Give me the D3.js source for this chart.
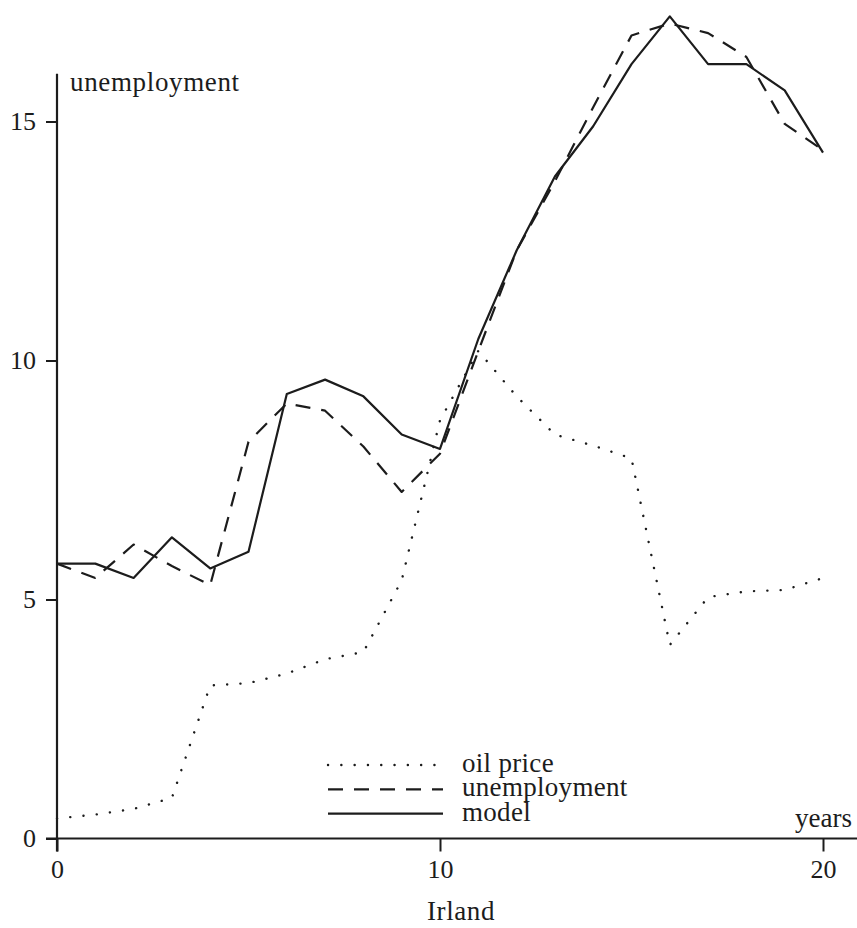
<!DOCTYPE html>
<html>
<head>
<meta charset="utf-8">
<script src="https://cdn.jsdelivr.net/npm/d3@7/dist/d3.min.js"></script>
<style>
    body { margin: 0; background: #fff; }
</style>
</head>
<body>
<svg id="chart" width="857" height="928"></svg>
<script>
// data (Irland)
const years = [0, 1, 2, 3, 4, 5, 6, 7, 8, 9, 10, 11, 12, 13, 14, 15, 16, 17, 18, 19, 20];
const oilPrice = [0.42, 0.5, 0.62, 0.85, 3.2, 3.25, 3.45, 3.75, 3.9, 5.4, 8.75,
    10.2, 9.25, 8.45, 8.22, 7.95, 4.05, 5.05, 5.17, 5.2, 5.45];
const unemployment = [5.75, 5.45, 6.15, 5.7, 5.3, 8.3, 9.1, 8.95, 8.2, 7.25, 8.05,
    10.2, 12.3, 13.75, 15.3, 16.8, 17.05, 16.85, 16.35, 14.95, 14.4];
const model = [5.75, 5.75, 5.45, 6.3, 5.65, 6.0, 9.3, 9.6, 9.25, 8.45, 8.15,
    10.45, 12.3, 13.85, 14.9, 16.2, 17.2, 16.2, 16.2, 15.65, 14.35];

const xTicks = [0, 10, 20];
const yTicks = [0, 5, 10, 15];
const seriesNames = ['oil price', 'unemployment', 'model'];

const ink = '#1c1c1c';
const tickSize = 26;
const labelSize = 27;
const serif = 'Liberation Serif, Times New Roman, Tinos, DejaVu Serif, serif';

const svg = d3.select('#chart')
    .attr('font-family', serif);
const width = +svg.attr('width');

const x = d3.scaleLinear().domain([0, 20]).range([57, 823]);
const y = d3.scaleLinear().domain([0, 15]).range([838.5, 121.5]);

// line styles per series
const styles = {
    'oil price': {dash: '0.1,13.2', cap: 'round', width: 2.4},
    'unemployment': {dash: '15,11', cap: 'butt', width: 2.2},
    'model': {dash: null, cap: 'butt', width: 2.2},
};

const series = [
    {name: 'oil price', values: oilPrice},
    {name: 'unemployment', values: unemployment},
    {name: 'model', values: model},
];

const line = d3.line()
    .x((d, i) => x(years[i]))
    .y(d => y(d));

// axes
const xAxis = svg.append('g')
    .attr('transform', `translate(0,${y(0)})`)
    .call(d3.axisBottom(x).tickValues(xTicks).tickSize(13).tickSizeOuter(0).tickPadding(8.5));

const yAxis = svg.append('g')
    .attr('transform', `translate(${x(0)},0)`)
    .call(d3.axisLeft(y).tickValues(yTicks).tickSize(11).tickSizeOuter(0).tickPadding(10));

[xAxis, yAxis].forEach(g => {
    g.attr('font-family', serif).attr('font-size', tickSize);
    g.select('.domain').remove();
    g.selectAll('.tick line').attr('stroke', ink).attr('stroke-width', 2);
    g.selectAll('.tick text').attr('fill', ink);
});

// axis lines, the y axis stops at 16 while the data runs above it
svg.append('line')
    .attr('x1', x(0) - 11).attr('x2', width)
    .attr('y1', y(0)).attr('y2', y(0))
    .attr('stroke', ink).attr('stroke-width', 2.2);

svg.append('line')
    .attr('x1', x(0)).attr('x2', x(0))
    .attr('y1', y(0) + 13).attr('y2', y(16))
    .attr('stroke', ink).attr('stroke-width', 2.2);

// series
svg.append('g')
    .selectAll('path')
    .data(series)
    .join('path')
    .attr('d', d => line(d.values))
    .attr('fill', 'none')
    .attr('stroke', ink)
    .attr('stroke-width', d => styles[d.name].width)
    .attr('stroke-linecap', d => styles[d.name].cap)
    .attr('stroke-linejoin', 'round')
    .attr('stroke-dasharray', d => styles[d.name].dash);

// axis titles
svg.append('text')
    .attr('x', 70).attr('y', 91)
    .attr('font-size', labelSize)
    .attr('letter-spacing', 0.65)
    .attr('fill', ink)
    .text('unemployment');

svg.append('text')
    .attr('x', 852).attr('y', 827)
    .attr('text-anchor', 'end')
    .attr('font-size', labelSize)
    .attr('fill', ink)
    .text('years');

svg.append('text')
    .attr('x', 461).attr('y', 920)
    .attr('text-anchor', 'middle')
    .attr('font-size', labelSize)
    .attr('letter-spacing', 0.6)
    .attr('fill', ink)
    .text('Irland');

// legend
const legend = svg.append('g')
    .selectAll('g')
    .data(seriesNames)
    .join('g')
    .attr('transform', (d, i) => `translate(328,${765 + i * 24.3})`);

legend.append('line')
    .attr('x1', 0).attr('x2', 115)
    .attr('stroke', ink)
    .attr('stroke-width', d => styles[d].width)
    .attr('stroke-linecap', d => styles[d].cap)
    .attr('stroke-dasharray', d => styles[d].dash);

legend.append('text')
    .attr('x', 134).attr('y', 7)
    .attr('font-size', labelSize)
    .attr('letter-spacing', 0.3)
    .attr('fill', ink)
    .text(d => d);
</script>
</body>
</html>
